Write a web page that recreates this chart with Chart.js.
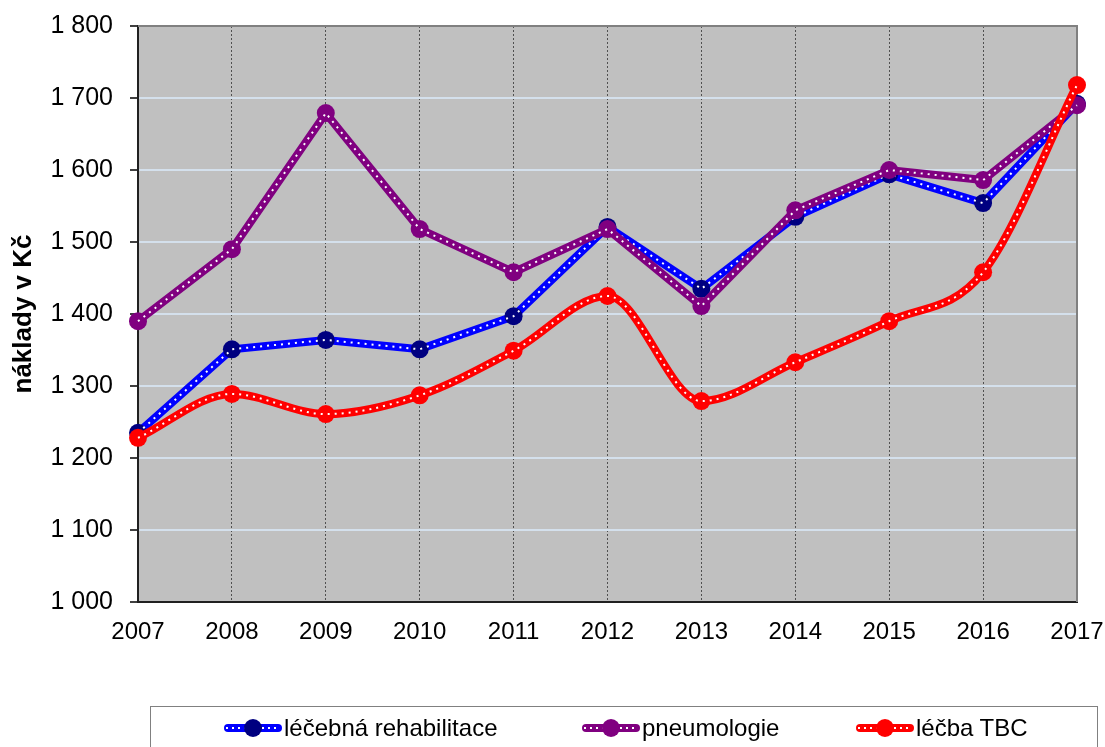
<!DOCTYPE html>
<html>
<head>
<meta charset="utf-8">
<script src="https://cdn.jsdelivr.net/npm/chart.js@4/dist/chart.umd.min.js"></script>
<style>
  body { margin: 0; background: #fff; font-family: "Liberation Sans", Arial, sans-serif; }
  #wrap { position: relative; width: 1105px; height: 747px; overflow: hidden; }
  #legend {
    position: absolute; left: 150px; top: 706px; width: 948px; height: 60px;
    border: 1px solid #808080; box-sizing: border-box;
  }
  .item { position: absolute; top: 7px; font-size: 24px; color: #000; white-space: nowrap; }
  .sample { display: inline-block; position: relative; width: 58px; height: 20px; vertical-align: -2px; margin-right: 2px; }
  .sample .ln { position: absolute; left: 0; right: 0; top: 6px; height: 8px; border-radius: 4px; }
  .sample .ln::after { content: ""; position: absolute; left: 2px; right: 2px; top: 3px; height: 2px;
    background: repeating-linear-gradient(90deg, #fff 0 2px, transparent 2px 6px); }
  .sample .pt { position: absolute; left: 20px; top: 1px; width: 18px; height: 18px; border-radius: 50%; }
</style>
</head>
<body>
<div id="wrap">
  <canvas id="c" width="1105" height="747"></canvas>
  <div id="legend">
    <span class="item" style="left:73px"><span class="sample"><span class="ln" style="background:#0000FF"></span><span class="pt" style="background:#000080"></span></span>léčebná rehabilitace</span>
    <span class="item" style="left:431px"><span class="sample"><span class="ln" style="background:#800080"></span><span class="pt" style="background:#800080"></span></span>pneumologie</span>
    <span class="item" style="left:705px"><span class="sample"><span class="ln" style="background:#FF0000"></span><span class="pt" style="background:#FF0000"></span></span>léčba TBC</span>
  </div>
</div>
<script>
// data
const years = ["2007", "2008", "2009", "2010", "2011", "2012", "2013", "2014", "2015", "2016", "2017"];
const rehabilitace = [1235, 1351, 1364, 1351, 1397, 1521, 1435, 1535, 1594, 1554, 1692];
const pneumologie = [1390, 1490, 1679, 1518, 1458, 1518, 1411, 1544, 1600, 1586, 1690];
const tbc = [1228, 1289, 1261, 1287, 1349, 1425, 1279, 1333, 1390, 1458, 1718];
const yTicks = [1000, 1100, 1200, 1300, 1400, 1500, 1600, 1700, 1800];

const series = [
  { label: "léčebná rehabilitace", data: rehabilitace, line: "#0000FF", point: "#000080", smooth: false },
  { label: "pneumologie", data: pneumologie, line: "#800080", point: "#800080", smooth: false },
  { label: "léčba TBC", data: tbc, line: "#FF0000", point: "#FF0000", smooth: true },
];

// thick coloured line + white dotted overlay for each series
const datasets = [];
series.forEach((s, i) => {
  const curve = s.smooth ? { tension: 0.4, cubicInterpolationMode: "monotone" } : { tension: 0 };
  datasets.push({
    label: s.label, data: s.data, borderColor: s.line, borderWidth: 8, ...curve,
    pointRadius: 9, pointHoverRadius: 9, pointBackgroundColor: s.point, pointBorderWidth: 0,
    order: 10 - i * 2,
  });
  datasets.push({
    label: "_dots", data: s.data, borderColor: "#FFFFFF", borderWidth: 2, borderDash: [2, 5], ...curve,
    pointRadius: 0, order: 9 - i * 2,
  });
});

const fmt = (v) => String(v).replace(/\B(?=(\d{3})+(?!\d))/g, " ");

const plotBg = {
  id: "plotBg",
  beforeDraw(chart) {
    const { ctx, chartArea: { left, top, width, height } } = chart;
    ctx.fillStyle = "#C0C0C0";
    ctx.fillRect(left, top, width, height);
  },
  beforeDatasetsDraw(chart) {
    const { ctx, chartArea: { left, top, right, bottom } } = chart;
    ctx.save();
    ctx.strokeStyle = "#808080";
    ctx.lineWidth = 2;
    ctx.beginPath();
    ctx.moveTo(left, top); ctx.lineTo(right, top); ctx.lineTo(right, bottom);
    ctx.stroke();
    ctx.restore();
  },
};

new Chart(document.getElementById("c"), {
  type: "line",
  data: { labels: years, datasets },
  options: {
    responsive: false,
    animation: false,
    layout: { padding: { left: 0, right: 28, top: 26, bottom: 105 } },
    plugins: { legend: { display: false }, tooltip: { enabled: false } },
    scales: {
      x: {
        offset: false,
        afterFit: (s) => { s.height = 40; s.paddingLeft = 0; s.paddingRight = 0; },
        grid: { color: "#505050", drawTicks: false, lineWidth: 1 },
        border: { display: true, color: "#202020", width: 2, dash: [2, 2] },
        ticks: { color: "#000", font: { family: "Liberation Sans", size: 24 }, padding: 16, maxRotation: 0, autoSkip: false },
      },
      y: {
        min: 1000, max: 1800,
        afterFit: (s) => { s.width = 138; s.paddingTop = 0; s.paddingBottom = 0; },
        afterBuildTicks: (s) => { s.ticks = yTicks.map((v) => ({ value: v })); },
        grid: { color: "#D4E0EC", lineWidth: 2, tickColor: "#404040", tickLength: 8 },
        border: { display: true, color: "#202020", width: 2 },
        ticks: { color: "#000", font: { family: "Liberation Sans", size: 25 }, padding: 17, callback: (v) => fmt(v) },
        title: { display: true, text: "náklady v Kč", color: "#000", font: { family: "Liberation Sans", size: 26, weight: "bold" }, padding: { top: 8, bottom: 0 } },
      },
    },
  },
  plugins: [plotBg],
});
</script>
</body>
</html>
